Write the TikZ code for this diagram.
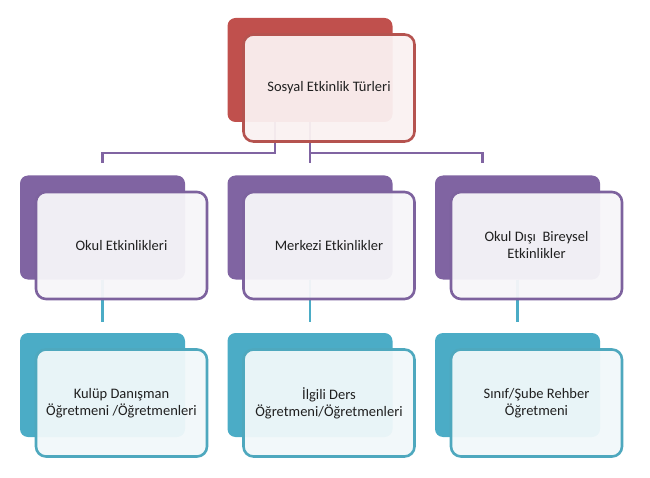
\documentclass[tikz,border=0pt]{standalone}
\usepackage{fontspec}
\setmainfont{Carlito}
\usepackage{xcolor}
\usetikzlibrary{positioning,backgrounds,calc}
\definecolor{tur-red}{HTML}{C0504D}
\definecolor{tur-edge}{HTML}{B5534F}
\definecolor{etk-purple}{HTML}{8064A2}
\definecolor{etk-edge}{HTML}{7D629E}
\definecolor{ogr-teal}{HTML}{4BACC6}
\definecolor{ogr-edge}{HTML}{4EA8BE}
\definecolor{label-grey}{HTML}{202020}

\begin{document}
\begin{tikzpicture}
      [x=1pt, y=-1pt, node distance=157.5pt and 207.5pt, on grid,
      back/.style = {shape=rectangle, rounded corners=8pt, inner sep=0pt,
        minimum width=165pt, minimum height=104pt},
      front/.style = {shape=rectangle, rounded corners=10pt,
        line width=2.6pt, fill opacity=0.95, text opacity=1, align=center,
        minimum width=171pt, minimum height=107pt, text=label-grey,
        font=\fontsize{14.5}{17}\selectfont},
      red back/.style = {back, fill=tur-red},
      red front/.style = {front, draw=tur-edge, fill=tur-red!8!white},
      purple back/.style = {back, fill=etk-purple},
      purple front/.style = {front, draw=etk-edge, fill=etk-purple!6!white},
      teal back/.style = {back, fill=ogr-teal},
      teal front/.style = {front, draw=ogr-edge, fill=ogr-teal!8!white},
      link/.style = {line width=2.4pt}]

      \useasboundingbox (0,0) rectangle (650,478);

      \node [red back] (TurBack) at (310,70) {};
      \node [purple back, below=of TurBack] (MerkeziBack) {};
      \node [purple back, left=of MerkeziBack] (OkulBack) {};
      \node [purple back, right=of MerkeziBack] (DisiBack) {};
      \node [teal back, below=of OkulBack] (KulupBack) {};
      \node [teal back, below=of MerkeziBack] (DersBack) {};
      \node [teal back, below=of DisiBack] (RehberBack) {};

      \coordinate (Bus) at ([yshift=-31pt]TurBack.south);
      \coordinate (OkulDrop) at ([yshift=12pt]OkulBack.north);
      \coordinate (MerkeziDrop) at ([yshift=12pt]MerkeziBack.north);
      \coordinate (DisiDrop) at ([xshift=-35pt,yshift=12pt]DisiBack.north);

      \draw [link, etk-purple] ([xshift=-35pt]TurBack.south)
      -- ([xshift=-35pt]TurBack.south |- Bus) -| (OkulDrop);
      \draw [link, etk-purple] (TurBack.south) -- (MerkeziDrop);
      \draw [link, etk-purple] (Bus) -| (DisiDrop);

      \draw [link, ogr-teal] (OkulBack.south)
      -- ([yshift=11pt]KulupBack.north);
      \draw [link, ogr-teal] (MerkeziBack.south)
      -- ([yshift=11pt]DersBack.north);
      \draw [link, ogr-teal] (DisiBack.south)
      -- ([yshift=11pt]RehberBack.north);

      \node [red front] (Tur) at ([xshift=19pt,yshift=-18pt]TurBack)
      {Sosyal Etkinlik Türleri};
      \node [purple front] (Okul) at ([xshift=19pt,yshift=-18pt]OkulBack)
      {Okul Etkinlikleri};
      \node [purple front] (Merkezi) at
      ([xshift=19pt,yshift=-18pt]MerkeziBack) {Merkezi Etkinlikler};
      \node [purple front] (Disi) at ([xshift=19pt,yshift=-18pt]DisiBack)
      {Okul Dışı~ Bireysel\\Etkinlikler};
      \node [teal front] (Kulup) at ([xshift=19pt,yshift=-18pt]KulupBack)
      {Kulüp Danışman\\Öğretmeni /Öğretmenleri};
      \node [teal front] (Ders) at ([xshift=19pt,yshift=-18pt]DersBack)
      {İlgili Ders\\Öğretmeni/Öğretmenleri};
      \node [teal front] (Rehber) at
      ([xshift=19pt,yshift=-18pt]RehberBack) {Sınıf/Şube Rehber\\Öğretmeni};
    \end{tikzpicture}
\end{document}
